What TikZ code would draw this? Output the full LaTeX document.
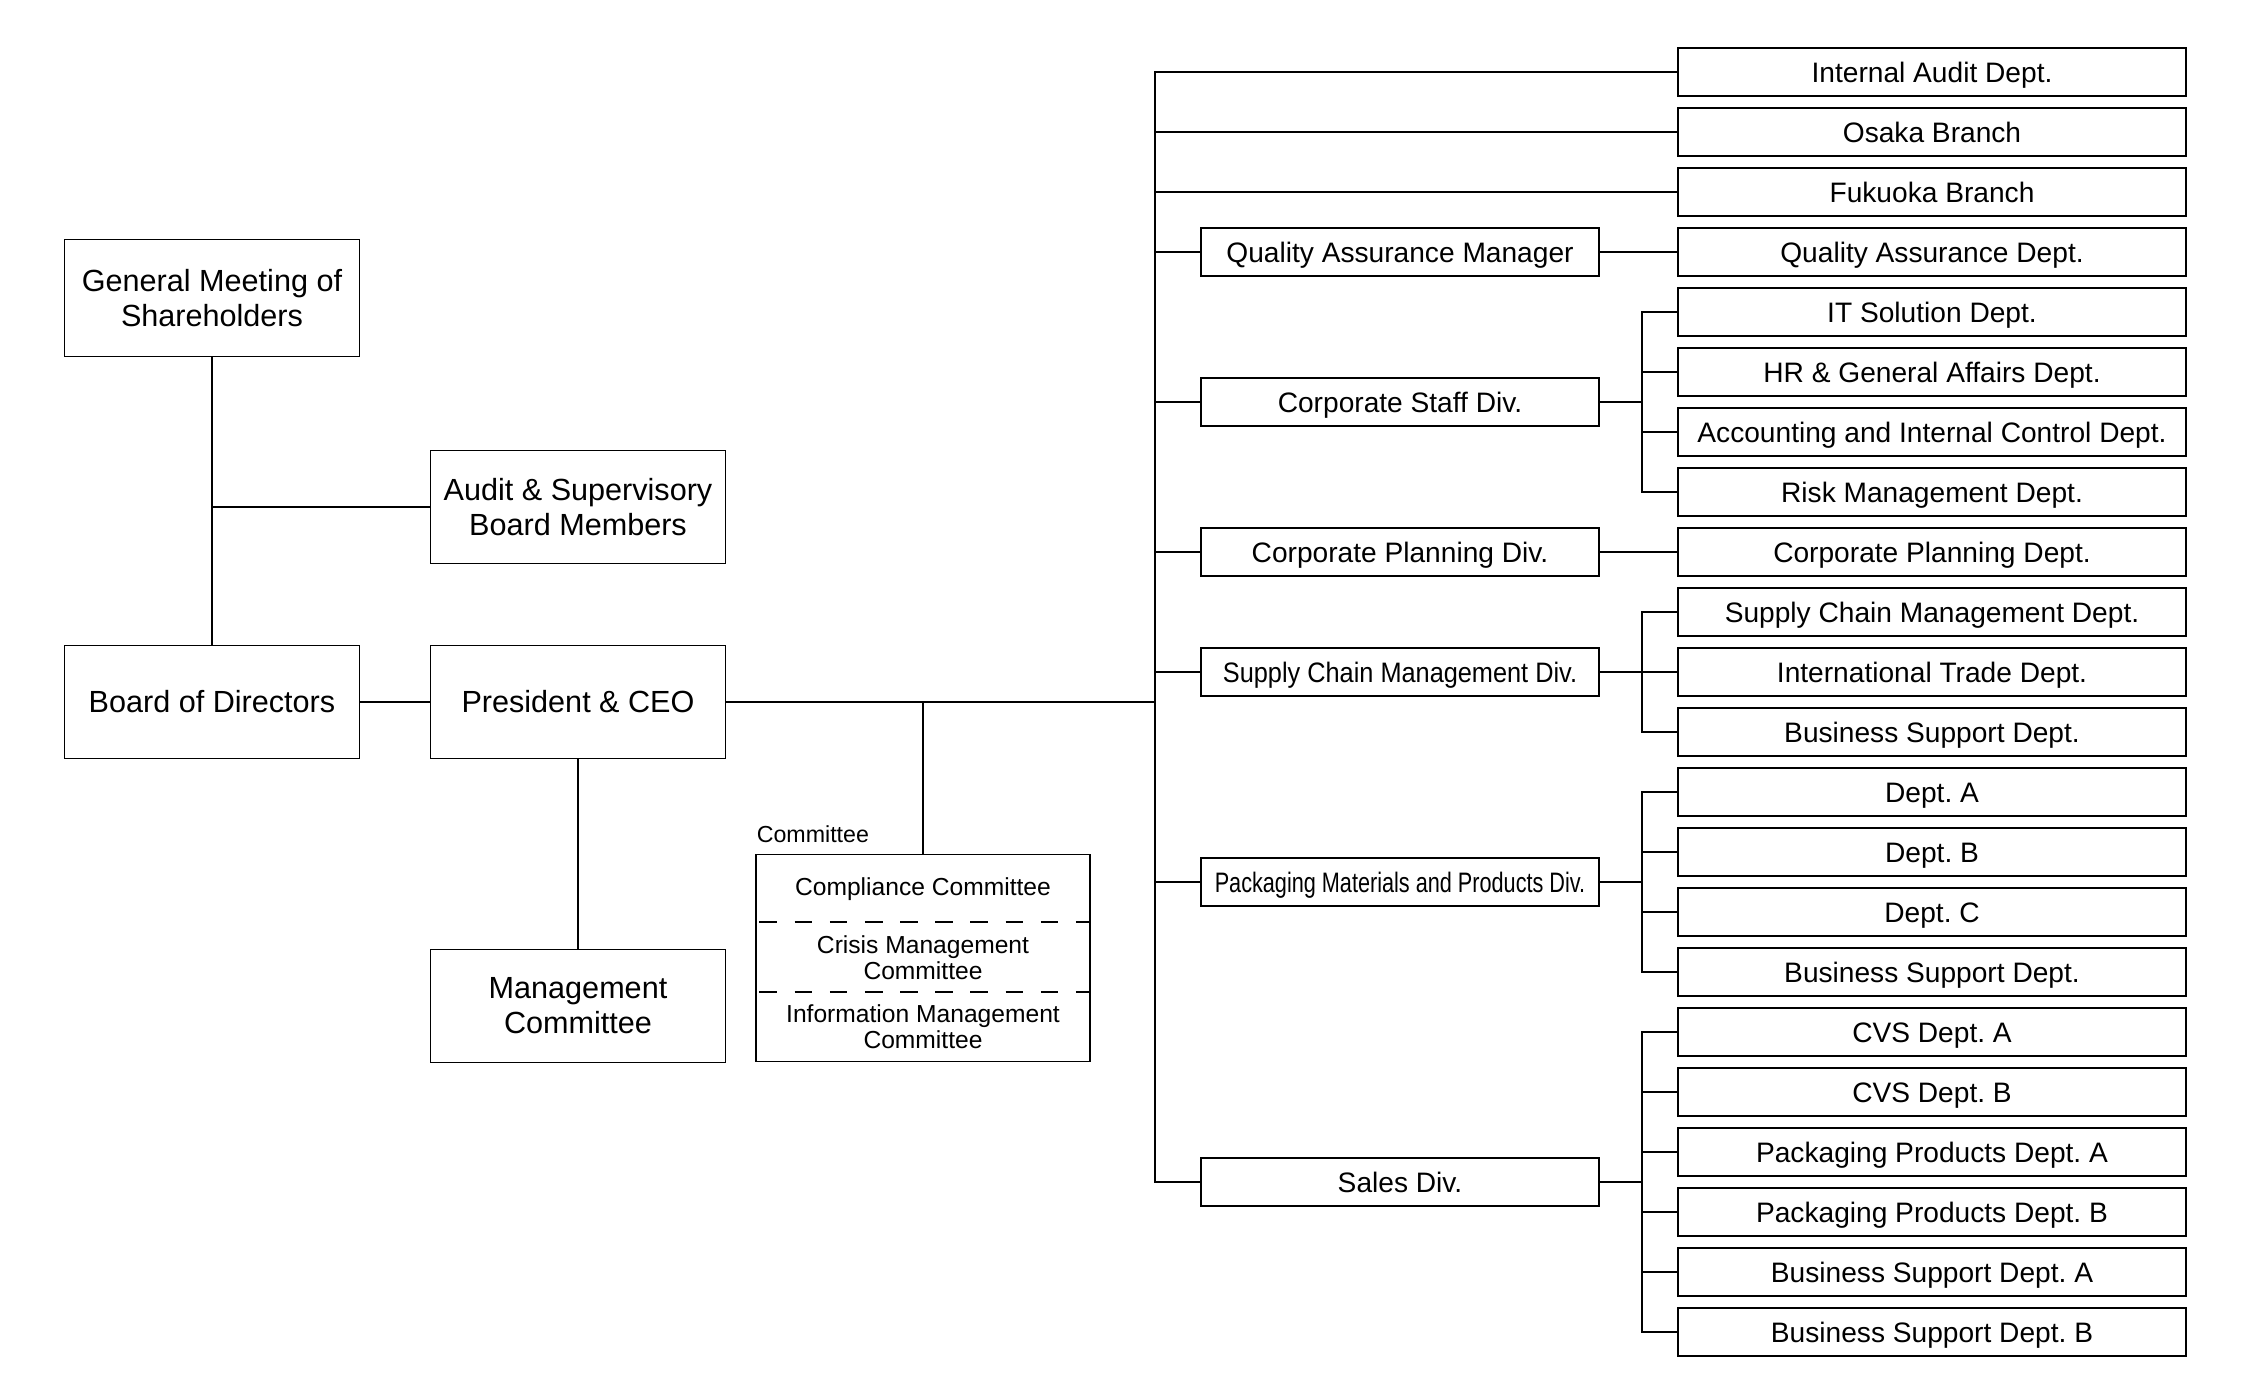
\documentclass[tikz,border=0pt]{standalone}
\usepackage{fontspec}
\setmainfont{Liberation Sans}
\newfontfamily\narrowfont[FakeStretch=0.77]{Liberation Sans}
\newfontfamily\semifont[FakeStretch=0.9]{Liberation Sans}
\newcommand{\bigfont}{\fontsize{8.7}{9.9}\selectfont}
\newcommand{\boxfont}{\fontsize{8}{9.6}\selectfont}
\newcommand{\commfont}{\fontsize{7}{7.5}\selectfont}
\frenchspacing

\begin{document}
\begin{tikzpicture}[x=0.01cm,y=-0.01cm,line width=0.45pt,
  bigbox/.style={draw, minimum width=2.95cm, minimum height=1.13cm, inner sep=0pt, outer sep=0pt, align=center, font=\bigfont},
  divbox/.style={draw, minimum width=3.98cm, minimum height=0.48cm, inner sep=0pt, outer sep=0pt, text height=8pt, text depth=1.8pt, font=\boxfont},
  deptbox/.style={divbox, minimum width=5.08cm},
  commtext/.style={align=center, inner sep=0pt, font=\commfont}]
\useasboundingbox (0,0) rectangle (2248,1398);
\node[bigbox, minimum height=1.17cm] (gms) at (212,298) {General Meeting of\\Shareholders};
\node[bigbox] (asb) at (578,507) {Audit \& Supervisory\\Board Members};
\node[bigbox] (bod) at (212,702) {Board of Directors};
\node[bigbox] (pres) at (578,702) {President \& CEO};
\node[bigbox] (mgmt) at (578,1006) {Management\\Committee};
\node[draw, minimum width=3.34cm, minimum height=2.07cm, inner sep=0pt, outer sep=0pt] (comm) at (923,958) {};
\node[anchor=base west, inner sep=0pt, font=\fontsize{6.6}{7}\selectfont] (commlbl) at (756,843) {Committee};
\node[commtext] (cc1) at (923,889) {Compliance Committee};
\node[commtext] (cc2) at (923,958) {Crisis Management\\Committee};
\node[commtext] (cc3) at (923,1027) {Information Management\\Committee};
\coordinate (d1) at (0,922);
\coordinate (d2) at (0,992);
\draw[dash pattern=on 5pt off 5pt, dash phase=-1pt] (comm.west |- d1) -- (comm.east |- d1);
\draw[dash pattern=on 5pt off 5pt, dash phase=-1pt] (comm.west |- d2) -- (comm.east |- d2);
\node[divbox] (qamgr) at (1400,252) {Quality Assurance Manager};
\node[divbox] (staff) at (1400,402) {Corporate Staff Div.};
\node[divbox] (plan) at (1400,552) {Corporate Planning Div.};
\node[divbox] (scm) at (1400,672) {\semifont Supply Chain Management Div.};
\node[divbox] (pack) at (1400,882) {\narrowfont Packaging Materials and Products Div.};
\node[divbox] (sales) at (1400,1182) {Sales Div.};
\node[deptbox] (audit) at (1932,72) {Internal Audit Dept.};
\node[deptbox] (osaka) at (1932,132) {Osaka Branch};
\node[deptbox] (fukuoka) at (1932,192) {Fukuoka Branch};
\node[deptbox] (qadept) at (1932,252) {Quality Assurance Dept.};
\node[deptbox] (it) at (1932,312) {IT Solution Dept.};
\node[deptbox] (hr) at (1932,372) {HR \& General Affairs Dept.};
\node[deptbox] (acct) at (1932,432) {Accounting and Internal Control Dept.};
\node[deptbox] (risk) at (1932,492) {Risk Management Dept.};
\node[deptbox] (plandept) at (1932,552) {Corporate Planning Dept.};
\node[deptbox] (scmdept) at (1932,612) {Supply Chain Management Dept.};
\node[deptbox] (trade) at (1932,672) {International Trade Dept.};
\node[deptbox] (bsone) at (1932,732) {Business Support Dept.};
\node[deptbox] (depta) at (1932,792) {Dept. A};
\node[deptbox] (deptb) at (1932,852) {Dept. B};
\node[deptbox] (deptc) at (1932,912) {Dept. C};
\node[deptbox] (bstwo) at (1932,972) {Business Support Dept.};
\node[deptbox] (cvsa) at (1932,1032) {CVS Dept. A};
\node[deptbox] (cvsb) at (1932,1092) {CVS Dept. B};
\node[deptbox] (ppa) at (1932,1152) {Packaging Products Dept. A};
\node[deptbox] (ppb) at (1932,1212) {Packaging Products Dept. B};
\node[deptbox] (bsa) at (1932,1272) {Business Support Dept. A};
\node[deptbox] (bsb) at (1932,1332) {Business Support Dept. B};
\coordinate (busx) at (1155,0);
\coordinate (subx) at (1642,0);
\draw (gms) -- (bod);
\draw (asb.west) -- (asb.west -| gms.south);
\draw (bod) -- (pres);
\draw (pres) -- (mgmt);
\draw (pres.east) -- (pres.east -| busx);
\draw (comm.north) -- (comm.north |- pres.east);
\draw (audit.west) -- (audit.west -| busx) -- (sales.west -| busx) -- (sales.west);
\draw (osaka.west) -- (osaka.west -| busx);
\draw (fukuoka.west) -- (fukuoka.west -| busx);
\draw (qamgr.west) -- (qamgr.west -| busx);
\draw (staff.west) -- (staff.west -| busx);
\draw (plan.west) -- (plan.west -| busx);
\draw (scm.west) -- (scm.west -| busx);
\draw (pack.west) -- (pack.west -| busx);
\draw (qamgr.east) -- (qadept.west);
\draw (plan.east) -- (plandept.west);
\draw (staff.east) -- (staff.east -| subx);
\draw (it.west) -- (it.west -| subx) -- (risk.west -| subx) -- (risk.west);
\draw (hr.west) -- (hr.west -| subx);
\draw (acct.west) -- (acct.west -| subx);
\draw (scm.east) -- (trade.west);
\draw (scmdept.west) -- (scmdept.west -| subx) -- (bsone.west -| subx) -- (bsone.west);
\draw (pack.east) -- (pack.east -| subx);
\draw (depta.west) -- (depta.west -| subx) -- (bstwo.west -| subx) -- (bstwo.west);
\draw (deptb.west) -- (deptb.west -| subx);
\draw (deptc.west) -- (deptc.west -| subx);
\draw (sales.east) -- (sales.east -| subx);
\draw (cvsa.west) -- (cvsa.west -| subx) -- (bsb.west -| subx) -- (bsb.west);
\draw (cvsb.west) -- (cvsb.west -| subx);
\draw (ppa.west) -- (ppa.west -| subx);
\draw (ppb.west) -- (ppb.west -| subx);
\draw (bsa.west) -- (bsa.west -| subx);
\end{tikzpicture}
\end{document}
